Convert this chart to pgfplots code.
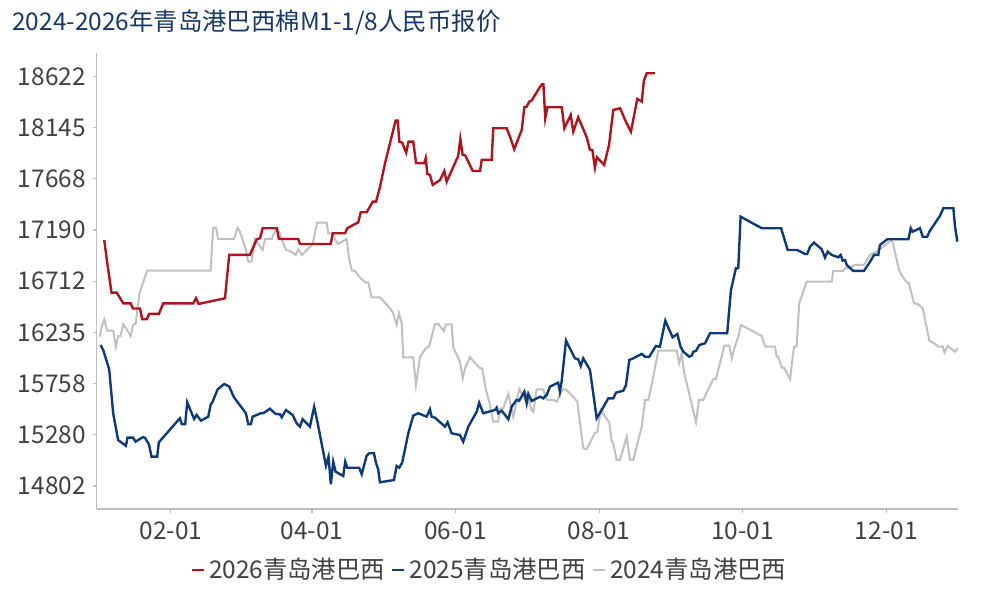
\documentclass[border=0pt]{standalone}
\usepackage{fontspec}
\setmainfont{Noto Sans CJK SC}
\usepackage{pgfplots}
\pgfplotsset{compat=1.18}
\definecolor{c26}{RGB}{175,20,30}
\definecolor{c25}{RGB}{15,58,120}
\definecolor{c24}{RGB}{192,192,192}
\definecolor{ttl}{RGB}{23,55,100}
\definecolor{txt}{RGB}{64,64,64}
\definecolor{axc}{RGB}{191,191,191}
\begin{document}
\begin{tikzpicture}
\useasboundingbox (0,0) rectangle (500pt,300pt);
\node[anchor=west, text=ttl, font=\fontsize{12.2}{14}\selectfont, inner sep=0pt] at (6pt,289pt) {2024-2026年青岛港巴西棉M1-1/8人民币报价};
\begin{axis}[
 at={(48.35pt,45.5pt)}, anchor=south west,
 scale only axis, width=430.8pt, height=228pt,
 xmin=-0.5, xmax=365.6, ymin=14588, ymax=18840,
 axis lines=left, axis line style={draw=axc, line width=0.6pt, -},
 scaled y ticks=false, scaled x ticks=false,
 xtick={31,91,152,213,274,335},
 xticklabels={02-01,04-01,06-01,08-01,10-01,12-01},
 ytick={14802.5,15280,15757.5,16235,16712.5,17190,17667.5,18145,18622.5},
 yticklabels={14802,15280,15758,16235,16712,17190,17668,18145,18622},
 tick style={draw=axc, line width=0.6pt},
 tick align=outside, major tick length=2pt,
 tick label style={font=\fontsize{12.2}{14}\selectfont, text=txt},
 xticklabel style={yshift=-1pt},
 legend style={at={(0.457,-0.134)}, anchor=center, draw=none, fill=none,
   font=\fontsize{12.2}{14}\selectfont, text=txt, inner sep=0pt,
   /tikz/every even column/.append style={column sep=1pt}},
 legend columns=3,
 legend image code/.code={\draw[#1] (0pt,0pt) -- (6pt,0pt);},
]
\addlegendimage{c26, line width=1.2pt}
\addlegendentry{2026青岛港巴西}
\addlegendimage{c25, line width=1.2pt}
\addlegendentry{2025青岛港巴西}
\addlegendimage{c24, line width=1.2pt}
\addlegendentry{2024青岛港巴西}

% 2024 gray
\addplot[c24, line width=1pt, forget plot] coordinates {
(0.85,16195)(1.6,16288)(2.7,16357)(3.95,16251)(6.5,16251)(7.65,16102)(8.6,16201)(9.65,16201)(10.75,16310)(12.45,16257)(13.9,16201)(15,16304)(16.15,16320)(16.7,16444)(17.85,16612)(20.95,16810)(47.9,16810)(49,17211)(50.15,17211)(51.1,17106)(57.8,17106)(59.4,17211)(60.35,17174)(62.9,17003)(63.9,16894)(65.3,16894)(66.7,17103)(70,17003)(71,17106)(73.8,17106)(75.95,17206)(76.9,17174)(79.9,17003)(81.6,16994)(84,16957)(85.1,17010)(86.8,16957)(91.25,17059)(93.2,17258)(97.2,17258)(97.9,17159)(99.75,17159)(100.7,17106)(102.1,17059)(105.7,17106)(106.8,16910)(107.95,16810)(109.2,16810)(111.05,16754)(113.5,16702)(114.9,16702)(116.3,16562)(119.85,16562)(124.1,16460)(125.5,16413)(126.95,16304)(127.9,16413)(129.1,16320)(129.75,16003)(134,16003)(135.15,15744)(136.85,16003)(139,16077)(140.8,16108)(143.2,16313)(144.6,16313)(147,16248)(147.9,16310)(150.3,16310)(151,16096)(153.85,15962)(155,15807)(156,15900)(158.1,16003)(162.35,15900)(163.3,15900)(164.9,15698)(166.3,15589)(168,15402)(170.1,15402)(170.85,15527)(172.25,15527)(174.4,15661)(176.5,15449)(179.05,15707)(181.5,15605)(182.2,15651)(184.3,15511)(185,15495)(186.45,15704)(189.25,15704)(190.7,15605)(193.5,15605)(194.9,15589)(196.8,15673)(197.75,15704)(198.5,15704)(200.6,15667)(203.7,15589)(206.25,15154)(207.7,15145)(211.2,15300)(212.2,15300)(213.65,15511)(217.3,15393)(218.3,15222)(219,15201)(220.45,15045)(221.85,15045)(224.7,15262)(226.1,15045)(227.5,15045)(231.1,15356)(232.5,15605)(233.9,15605)(236,15822)(238.1,16064)(245.9,16064)(247,15947)(248.1,16040)(249,15868)(254.15,15397)(255.4,15605)(257.2,15605)(261.5,15800)(262.6,15800)(266.2,16111)(268.3,16111)(269.3,15993)(270.7,16102)(272.1,16195)(273.3,16304)(282.1,16201)(283.5,16102)(287.7,16102)(288.45,16008)(289.1,16008)(290.6,15906)(291.55,15906)(294.1,15798)(295.8,16102)(296.9,16102)(298,16506)(301.2,16708)(311.8,16708)(312.5,16808)(316.75,16808)(317.5,16833)(318.9,16833)(321.7,16864)(325.5,16864)(328.1,16957)(330.9,16988)(334,17041)(337.3,17097)(338,17050)(340.4,16817)(341.5,16770)(343.7,16698)(344.5,16698)(346.8,16506)(348.6,16497)(350.5,16460)(353.3,16158)(355.7,16127)(357.1,16102)(359,16102)(359.7,16046)(361.1,16108)(364.2,16055)(365.4,16087)
};

% 2025 blue
\addplot[c25, line width=1.2pt, forget plot] coordinates {
(1.15,16117)(2.25,16071)(4.8,15891)(6.5,15480)(8.6,15231)(11.9,15178)(12.6,15253)(15,15253)(16,15216)(19,15257)(20,15253)(21.7,15191)(22.8,15076)(25.2,15076)(25.9,15210)(34.85,15434)(35.7,15378)(37.1,15378)(37.95,15583)(40.9,15427)(41.95,15465)(43.8,15412)(46.9,15449)(47.9,15558)(48.75,15589)(50.9,15704)(53.7,15754)(55.8,15729)(57.8,15630)(62.9,15481)(63.9,15378)(65,15378)(65.75,15449)(69.3,15481)(70.25,15481)(73.1,15523)(75.5,15474)(77.35,15471)(78.1,15443)(79.9,15511)(82.75,15465)(84.45,15387)(85.85,15356)(87,15425)(90.1,15356)(91.9,15542)(93.4,15387)(96.9,14992)(98,15076)(99,14818)(100,15029)(101,14936)(104.25,14896)(105.1,15029)(105.95,14973)(111,14973)(112.1,14912)(114.2,15085)(115.3,15108)(117.3,15108)(118.15,15020)(119.1,14958)(119.85,14837)(124.1,14852)(125.8,14858)(126.95,14989)(128.05,14973)(129.3,15020)(131.9,15294)(134,15458)(136.1,15481)(139.7,15449)(141.1,15518)(141.8,15449)(143.2,15440)(147.5,15356)(148.6,15397)(150.3,15294)(153.85,15278)(155.25,15216)(157.4,15356)(160.95,15495)(162,15579)(163.75,15481)(168.7,15511)(169.45,15533)(170.1,15481)(171.6,15505)(174.4,15425)(175.8,15542)(177.9,15605)(179,15598)(181.2,15682)(182.2,15574)(182.9,15661)(184.3,15595)(187.85,15635)(189.25,15620)(190.7,15651)(192.1,15729)(194.9,15760)(195.6,15766)(196.3,15682)(197.05,15775)(198.9,16158)(202.7,15993)(204.1,15984)(205.15,15922)(206.25,15993)(209.1,15884)(211.95,15434)(214.05,15511)(216.9,15620)(219,15620)(220.15,15673)(223.25,15691)(224.4,15744)(225.8,15978)(227.5,15993)(231.1,16034)(232.5,16008)(234.3,16008)(237.1,16108)(238.8,16101)(241.1,16344)(244.2,16189)(245.6,16211)(246.2,16220)(247.6,16101)(248.75,16055)(251.3,16008)(252.3,16018)(253,16055)(254.15,16062)(255.55,16117)(258,16133)(260.1,16227)(267.4,16227)(269,16630)(271.1,16833)(272.1,16833)(273.1,17314)(282.1,17206)(290.3,17206)(293.1,17003)(297.2,17003)(300.5,16966)(301.4,16966)(302.6,17034)(304.3,17072)(307.55,17010)(308.95,16932)(310.1,16988)(311.8,16957)(314.6,16935)(315.6,16957)(316.5,16904)(317.5,16910)(318.2,16864)(321,16808)(325.5,16808)(328.1,16894)(329.8,16957)(331.6,16957)(332.3,17050)(335.4,17103)(344.4,17103)(345.4,17206)(346.2,17174)(349.3,17206)(350.5,17127)(352.4,17127)(353.3,17174)(357.1,17299)(357.8,17320)(359.2,17392)(363.5,17392)(364.2,17221)(365.2,17081)
};

% 2026 red
\addplot[c26, line width=1.2pt, forget plot] coordinates {
(2.7,17097)(4,16879)(5.8,16605)(8,16605)(10.8,16506)(13.9,16506)(14.9,16458)(17.9,16458)(18.8,16357)(20.7,16357)(21.8,16407)(25.9,16407)(27.8,16506)(40.5,16506)(41.7,16553)(42.8,16500)(54,16553)(55.8,16957)(64.6,16957)(67.5,17103)(68.9,17113)(70,17206)(76,17206)(76.9,17106)(85.1,17106)(85.9,17059)(98.9,17059)(99.8,17159)(105,17159)(106,17206)(108.5,17237)(110.6,17260)(111.7,17355)(114.2,17355)(116.8,17454)(118.2,17454)(119.9,17594)(122,17812)(126.5,18209)(127.4,18209)(128.1,18013)(129.3,18004)(131,17911)(132,18013)(134,18013)(135.2,17812)(138.7,17812)(139.3,17859)(140,17712)(141.1,17703)(142.3,17610)(145.4,17656)(147.2,17740)(148.2,17640)(153.1,17880)(154,18039)(155,17889)(156,17889)(159.3,17740)(162.4,17740)(163.1,17843)(167.3,17843)(168,18138)(173.7,18138)(175.1,18060)(176.9,17943)(180.1,18123)(181.2,18334)(182.2,18340)(183.3,18387)(184.3,18396)(187.9,18526)(188.8,18549)(189.3,18549)(190.1,18232)(191,18334)(197.1,18334)(198.2,18138)(200.9,18262)(202,18107)(204.1,18241)(207.7,18054)(209.1,17936)(210.1,17936)(211.2,17771)(212,17868)(215.1,17796)(217.2,17983)(219,18309)(221.9,18325)(224,18216)(226.1,18123)(226.5,18107)(229.2,18412)(231.1,18387)(232,18582)(233.2,18651)(236.7,18651)
};
\end{axis}
\end{tikzpicture}
\end{document}
